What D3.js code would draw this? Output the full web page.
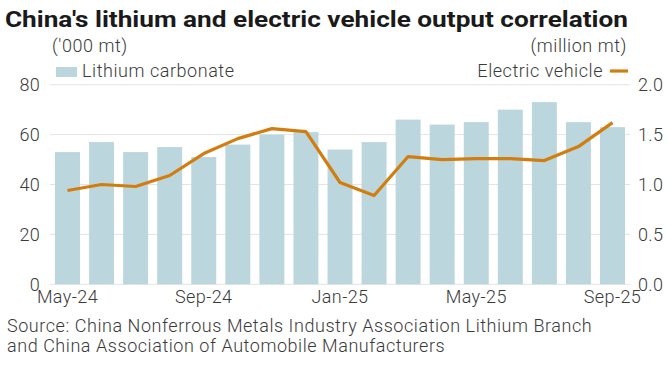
<!DOCTYPE html>
<html><head><meta charset="utf-8">
<script src="https://cdn.jsdelivr.net/npm/d3@7"></script>
<style>
html,body{margin:0;padding:0;background:#fff;}
svg{display:block;font-family:Roboto,"Liberation Sans",sans-serif;}
</style></head>
<body>
<svg id="chart" width="671" height="367"></svg>
<script>
const months = ["May-24","Jun-24","Jul-24","Aug-24","Sep-24","Oct-24","Nov-24","Dec-24","Jan-25","Feb-25","Mar-25","Apr-25","May-25","Jun-25","Jul-25","Aug-25","Sep-25"];
const lithium = [53,57,53,55,51,56,60,61,54,57,66,64,65,70,73,65,63];
const ev = [0.94,1.00,0.98,1.09,1.31,1.46,1.56,1.53,1.02,0.89,1.28,1.25,1.26,1.26,1.24,1.38,1.62];
const leftTicks = [0,20,40,60,80];
const rightTicks = [0,0.5,1.0,1.5,2.0];
const xTickLabels = ["May-24","Sep-24","Jan-25","May-25","Sep-25"];

const svg = d3.select("#chart");
const plotTop = 84.7, plotBottom = 284.3, plotLeft = 50, plotRight = 630;
const x = d3.scaleBand().domain(months).range([plotLeft, plotRight]).paddingInner(0.267).paddingOuter(0.147);
const yL = d3.scaleLinear().domain([0,80]).range([plotBottom, plotTop]);
const yR = d3.scaleLinear().domain([0,2]).range([plotBottom, plotTop]);
const textCol = "#3a3a3a";
const fs = 18, ls = 0.55;

function styleText(sel){
  sel.attr("font-size", fs).attr("fill", textCol).attr("font-family","Roboto")
     .attr("font-weight",300).attr("letter-spacing", ls);
}

// grid
svg.append("g").selectAll("line").data(leftTicks).join("line")
  .attr("x1", plotLeft).attr("x2", plotRight)
  .attr("y1", d => yL(d)).attr("y2", d => yL(d))
  .attr("stroke", "#e4e4e4").attr("stroke-width", 1);

// bars
svg.append("g").selectAll("rect").data(lithium).join("rect")
  .attr("x", (d,i) => x(months[i])).attr("width", x.bandwidth())
  .attr("y", d => yL(d)).attr("height", d => yL(0) - yL(d))
  .attr("fill", "#bcd6de");

// line
const line = d3.line().x((d,i) => x(months[i]) + x.bandwidth()/2).y(d => yR(d));
svg.append("path").datum(ev).attr("d", line)
  .attr("fill","none").attr("stroke","#d27d10").attr("stroke-width",3.2)
  .attr("stroke-linejoin","round");

// left axis
const axL = d3.axisLeft(yL).tickValues(leftTicks).tickSize(0).tickPadding(0);
const gL = svg.append("g").attr("transform", `translate(40,0)`).call(axL);
gL.select(".domain").remove();
styleText(gL.selectAll("text"));
gL.selectAll("text").attr("letter-spacing", 0.3);

// right axis
const axR = d3.axisRight(yR).tickValues(rightTicks).tickSize(0).tickPadding(0).tickFormat(d3.format(".1f"));
const gR = svg.append("g").attr("transform", `translate(638,0)`).call(axR);
gR.select(".domain").remove();
styleText(gR.selectAll("text"));
gR.selectAll("text").attr("letter-spacing", 0.3);

// x axis
const axX = d3.axisBottom(x).tickValues(xTickLabels).tickSize(0).tickPadding(0);
const gX = svg.append("g").attr("transform", `translate(0,290)`).call(axX);
gX.select(".domain").remove();
styleText(gX.selectAll("text"));
gX.selectAll("text").attr("letter-spacing", 0.4);

// title
svg.append("text").attr("x", 5).attr("y", 27).text("China's lithium and electric vehicle output correlation")
  .attr("font-size", 22).attr("font-weight", 700).attr("fill", "#1a1a1a")
  .attr("textLength", 623).attr("lengthAdjust", "spacingAndGlyphs");

// unit labels
styleText(svg.append("text").attr("x", 52).attr("y", 52).text("('000 mt)"));
styleText(svg.append("text").attr("x", 627).attr("y", 52).attr("text-anchor","end").text("(million mt)"));

// legend
svg.append("rect").attr("x", 56).attr("y", 67).attr("width", 21).attr("height", 10).attr("fill", "#bcd6de");
styleText(svg.append("text").attr("x", 82).attr("y", 77).text("Lithium carbonate"));
styleText(svg.append("text").attr("x", 603).attr("y", 77).attr("text-anchor","end").text("Electric vehicle"));
svg.append("line").attr("x1",610).attr("x2",628).attr("y1",71).attr("y2",71).attr("stroke","#d27d10").attr("stroke-width",3.2);

// source
styleText(svg.append("text").attr("x", 7).attr("y", 332).text("Source: China Nonferrous Metals Industry Association Lithium Branch"));
styleText(svg.append("text").attr("x", 7).attr("y", 352).text("and China Association of Automobile Manufacturers"));
</script>
</body></html>
